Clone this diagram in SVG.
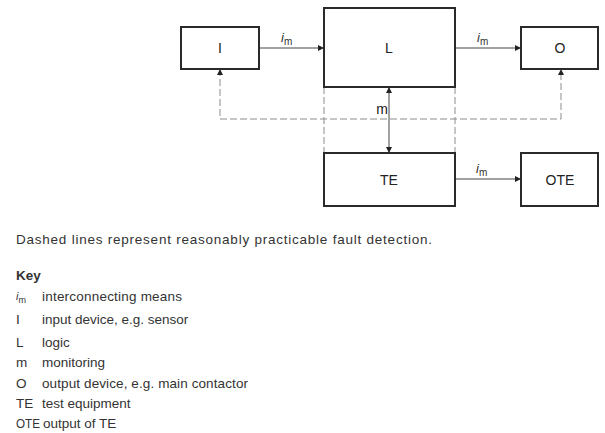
<svg xmlns="http://www.w3.org/2000/svg" width="605" height="433" viewBox="0 0 605 433">
<style>
.box{fill:#fff;stroke:#2a2a2a;stroke-width:2}
.lbl{font-family:"Liberation Sans",Arial,sans-serif;font-size:14px;fill:#222;text-anchor:middle}
.ln{stroke:#444;stroke-width:1;fill:none}
.dash{stroke:#8c8c8c;stroke-width:1;fill:none;stroke-dasharray:7 3}
.txt{font-family:"Liberation Sans",Arial,sans-serif;font-size:13.5px;fill:#333}
.im{font-family:"Liberation Sans",Arial,sans-serif;font-size:13px;fill:#333}
</style>
<defs>
<marker id="ah" viewBox="0 0 10 10" refX="10" refY="5" markerWidth="8" markerHeight="6" markerUnits="userSpaceOnUse" orient="auto-start-reverse">
<path d="M0,0 L10,5 L0,10 z" fill="#222"/>
</marker>
</defs>
<rect width="605" height="433" fill="#fff"/>
<g id="connectors">
<line class="ln" x1="259" y1="48" x2="324" y2="48" marker-end="url(#ah)"/>
<line class="ln" x1="455" y1="48" x2="521" y2="48" marker-end="url(#ah)"/>
<line class="ln" x1="455" y1="179" x2="521" y2="179" marker-end="url(#ah)"/>
<line class="ln" x1="389" y1="87" x2="389" y2="153" marker-start="url(#ah)" marker-end="url(#ah)"/>
<path class="dash" d="M220,69 V119 H561 V69" marker-start="url(#ah)" marker-end="url(#ah)"/>
<line class="dash" x1="324" y1="87" x2="324" y2="153"/>
<line class="dash" x1="455" y1="87" x2="455" y2="153"/>
<text class="im" x="281" y="42"><tspan font-style="italic">i</tspan><tspan font-size="10" dy="3">m</tspan></text>
<text class="im" x="477" y="42"><tspan font-style="italic">i</tspan><tspan font-size="10" dy="3">m</tspan></text>
<text class="im" x="476" y="173"><tspan font-style="italic">i</tspan><tspan font-size="10" dy="3">m</tspan></text>
<text class="lbl" x="382" y="114" font-size="13">m</text>
</g>
<g id="node-I"><rect class="box" x="181" y="27" width="78" height="42"/><text class="lbl" x="220" y="53">I</text></g>
<g id="node-L"><rect class="box" x="324" y="8" width="131" height="79"/><text class="lbl" x="389" y="53">L</text></g>
<g id="node-O"><rect class="box" x="521" y="27" width="77" height="42"/><text class="lbl" x="560" y="53">O</text></g>
<g id="node-TE"><rect class="box" x="324" y="153" width="131" height="53"/><text class="lbl" x="389" y="185">TE</text></g>
<g id="node-OTE"><rect class="box" x="521" y="153" width="77" height="53"/><text class="lbl" x="560" y="185">OTE</text></g>
<g id="legend">
<text class="txt" x="16" y="244" font-size="13.5" textLength="416" lengthAdjust="spacing">Dashed lines represent reasonably practicable fault detection.</text>
<text class="txt" x="16" y="280" font-weight="bold">Key</text>
<text class="txt" x="16" y="300"><tspan font-style="italic" font-size="11">i</tspan><tspan font-size="9" dy="3">m</tspan></text>
<text class="txt" x="42" y="301" textLength="140" lengthAdjust="spacing">interconnecting means</text>
<text class="txt" x="16" y="324">I</text><text class="txt" x="42" y="324">input device, e.g. sensor</text>
<text class="txt" x="16" y="347">L</text><text class="txt" x="42" y="347">logic</text>
<text class="txt" x="16" y="367">m</text><text class="txt" x="42" y="367">monitoring</text>
<text class="txt" x="16" y="388">O</text><text class="txt" x="42" y="388" textLength="206" lengthAdjust="spacing">output device, e.g. main contactor</text>
<text class="txt" x="16" y="408">TE</text><text class="txt" x="42" y="408">test equipment</text>
<text class="txt" x="16" y="428" textLength="24" lengthAdjust="spacingAndGlyphs">OTE</text><text class="txt" x="43" y="428">output of TE</text>
</g>
</svg>
